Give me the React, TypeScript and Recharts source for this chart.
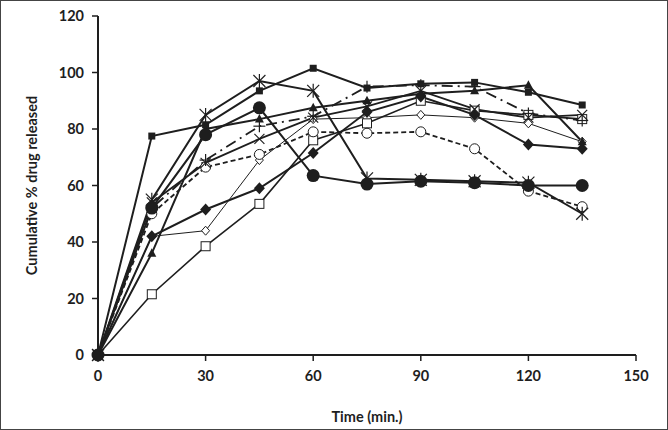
import React from 'react';
import { LineChart, Line, XAxis, YAxis } from 'recharts';

const times = [0, 15, 30, 45, 60, 75, 90, 105, 120, 135];
const xTicks = [0, 30, 60, 90, 120, 150];
const yTicks = [0, 20, 40, 60, 80, 100, 120];

const filledSquare = [0, 77.5, 81.5, 93.5, 101.5, 94.5, 96, 96.5, 93, 88.5];
const asterisk = [0, 55, 85, 97, 93.5, 62.5, 62, 61.5, 61, 50];
const filledCircle = [0, 52, 78, 87.5, 63.5, 60.5, 61.5, 61, 60, 60];
const filledTriangle = [0, 36, 80, 83.5, 87.5, 90, 92.5, 93.5, 95.5, 75.5];
const plusDashDot = [0, 52, 69, 81, 84.5, 95, 95.5, 95, 85.5, 83];
const crossLine = [0, 54, 68, 76.5, 84, 88, 93.5, 87, 84, 85];
const openCircleDashed = [0, 50, 66.5, 71, 79, 78.5, 79, 73, 58, 52.5];
const openDiamond = [0, 42, 44, 69, 83.5, 84, 85, 84, 82, 75.5];
const filledDiamond = [0, 42, 51.5, 59, 71.5, 86, 91.5, 85, 74.5, 73];
const openSquare = [0, 21.5, 38.5, 53.5, 76, 82, 90, 86.5, 85, 83.5];

const data = times.map((t, i) => ({
  t,
  sqF: filledSquare[i],
  star: asterisk[i],
  circF: filledCircle[i],
  triF: filledTriangle[i],
  plus: plusDashDot[i],
  cross: crossLine[i],
  circO: openCircleDashed[i],
  diamO: openDiamond[i],
  diamF: filledDiamond[i],
  sqO: openSquare[i],
}));

const INK = '#1e1e1e';

type MarkerKind = 'sqF' | 'star' | 'circF' | 'triF' | 'plus' | 'cross' | 'circO' | 'diamO' | 'diamF' | 'sqO';

function renderMarker(kind: MarkerKind) {
  return (props: any) => {
    const { cx, cy, index } = props;
    const key = `${kind}-${index}`;
    if (cx == null || cy == null) return <g key={key} />;
    switch (kind) {
      case 'sqF':
        return <rect key={key} x={cx - 3.5} y={cy - 3.5} width={7} height={7} fill={INK} />;
      case 'star':
        return (
          <g key={key} stroke={INK} strokeWidth={1.2}>
            <line x1={cx - 6} y1={cy - 6} x2={cx + 6} y2={cy + 6} />
            <line x1={cx - 6} y1={cy + 6} x2={cx + 6} y2={cy - 6} />
            <line x1={cx} y1={cy - 7} x2={cx} y2={cy + 7} />
          </g>
        );
      case 'circF':
        return <circle key={key} cx={cx} cy={cy} r={6.5} fill={INK} />;
      case 'triF':
        return <polygon key={key} points={`${cx},${cy - 5} ${cx - 4.5},${cy + 3.5} ${cx + 4.5},${cy + 3.5}`} fill={INK} />;
      case 'plus':
        return (
          <g key={key} stroke={INK} strokeWidth={1.2}>
            <line x1={cx - 6} y1={cy} x2={cx + 6} y2={cy} />
            <line x1={cx} y1={cy - 6} x2={cx} y2={cy + 6} />
          </g>
        );
      case 'cross':
        return (
          <g key={key} stroke={INK} strokeWidth={1.2}>
            <line x1={cx - 5} y1={cy - 5} x2={cx + 5} y2={cy + 5} />
            <line x1={cx - 5} y1={cy + 5} x2={cx + 5} y2={cy - 5} />
          </g>
        );
      case 'circO':
        return <circle key={key} cx={cx} cy={cy} r={5} fill="#fff" stroke={INK} strokeWidth={1} />;
      case 'diamO':
        return <polygon key={key} points={`${cx},${cy - 4.5} ${cx + 4},${cy} ${cx},${cy + 4.5} ${cx - 4},${cy}`} fill="#fff" stroke={INK} strokeWidth={1} />;
      case 'diamF':
        return <polygon key={key} points={`${cx},${cy - 6} ${cx + 5.5},${cy} ${cx},${cy + 6} ${cx - 5.5},${cy}`} fill={INK} />;
      case 'sqO':
        return <rect key={key} x={cx - 4.5} y={cy - 4.5} width={9} height={9} fill="#fff" stroke={INK} strokeWidth={1} />;
      default:
        return <g key={key} />;
    }
  };
}

const seriesList: { key: MarkerKind; width: number; dash?: string }[] = [
  { key: 'diamO', width: 1 },
  { key: 'sqO', width: 1.6 },
  { key: 'circO', width: 1.8, dash: '5 3' },
  { key: 'plus', width: 1.8, dash: '11 5 2 5' },
  { key: 'cross', width: 1.8 },
  { key: 'diamF', width: 2 },
  { key: 'triF', width: 2 },
  { key: 'star', width: 2 },
  { key: 'circF', width: 2 },
  { key: 'sqF', width: 2 },
];

const tickStyle = { fill: INK, fontFamily: 'Lato, "Open Sans", sans-serif', fontWeight: 700, fontSize: 14.5 };

export default function App() {
  return (
    <div style={{ position: 'absolute', left: 0, top: 0, width: 668, height: 430, background: '#fff' }}>
      <LineChart
        width={668}
        height={430}
        data={data}
        margin={{ top: 16, right: 32, left: 38, bottom: 5 }}
      >
        <XAxis
          type="number"
          dataKey="t"
          domain={[0, 150]}
          ticks={xTicks}
          interval={0}
          height={70}
          tickSize={6}
          tickMargin={10}
          stroke={INK}
          axisLine={{ stroke: INK, strokeWidth: 2 }}
          tickLine={{ stroke: INK, strokeWidth: 1.5 }}
          tick={tickStyle}
          label={{ value: 'Time (min.)', position: 'insideBottom', offset: 3, style: { ...tickStyle, fontSize: 14.5 } }}
        />
        <YAxis
          type="number"
          domain={[0, 120]}
          ticks={yTicks}
          interval={0}
          width={60}
          tickSize={6}
          tickMargin={8}
          stroke={INK}
          axisLine={{ stroke: INK, strokeWidth: 2 }}
          tickLine={{ stroke: INK, strokeWidth: 1.5 }}
          tick={tickStyle}
          label={{ value: 'Cumulative % drug released', angle: -90, position: 'insideLeft', offset: -6, style: { ...tickStyle, fontSize: 14.5, textAnchor: 'middle' } }}
        />
        {seriesList.map((s) => (
          <Line
            key={s.key}
            type="linear"
            dataKey={s.key}
            stroke={INK}
            strokeWidth={s.width}
            strokeDasharray={s.dash}
            dot={renderMarker(s.key)}
            activeDot={false}
            isAnimationActive={false}
          />
        ))}
      </LineChart>
      <div style={{ position: 'absolute', left: 0, top: 0, width: 668, height: 430, boxSizing: 'border-box', border: '1px solid #444', pointerEvents: 'none' }} />
    </div>
  );
}
